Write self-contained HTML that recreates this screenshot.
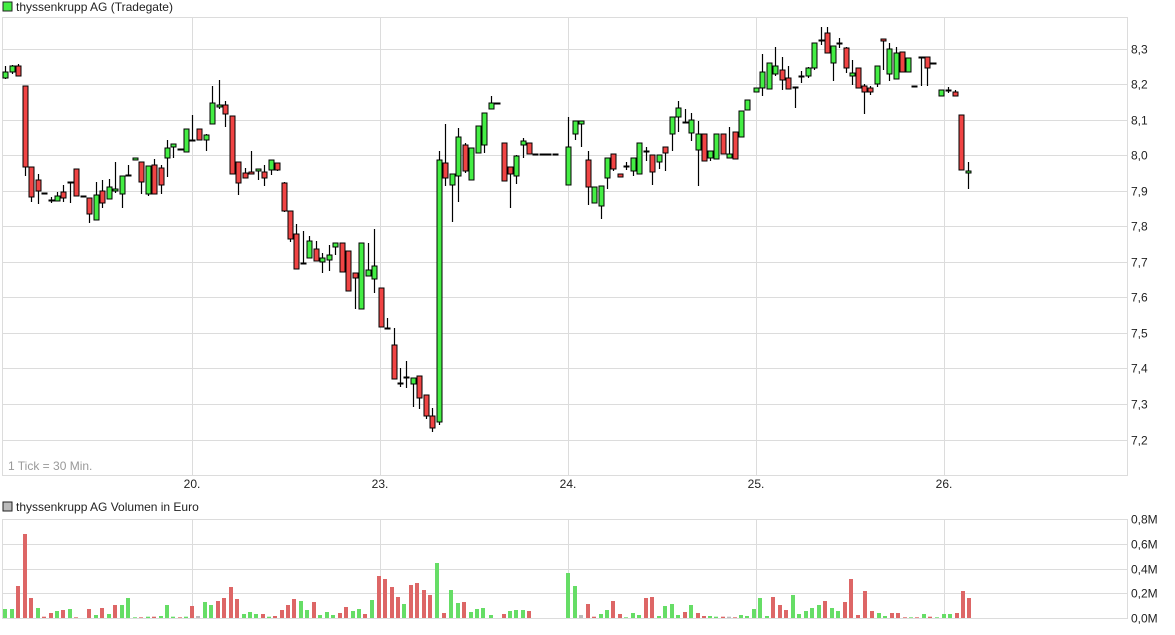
<!DOCTYPE html>
<html><head><meta charset="utf-8"><style>
body{margin:0;background:#fff;width:1175px;height:630px;overflow:hidden;font-family:"Liberation Sans",sans-serif}
svg text{font-family:"Liberation Sans",sans-serif;font-size:12px;fill:#222}
</style></head><body>
<svg id="s" width="1175" height="630" xmlns="http://www.w3.org/2000/svg">
<rect x="3" y="2" width="9" height="9" fill="#44ee44" stroke="#222" stroke-width="1"/>
<text x="16" y="11">thyssenkrupp AG (Tradegate)</text>
<rect x="3" y="502" width="9" height="9" fill="#bbb" stroke="#222" stroke-width="1"/>
<text x="16" y="511">thyssenkrupp AG Volumen in Euro</text>
<text x="8" y="470" style="fill:#999">1 Tick = 30 Min.</text>
<g id="grid"></g>
<g id="c"></g>
</svg>
<script>
var s='',g='';
function L(x1,y1,x2,y2,c,w){return '<line x1="'+x1+'" y1="'+y1+'" x2="'+x2+'" y2="'+y2+'" stroke="'+c+'" stroke-width="'+(w||1)+'"/>';}
// price grid
var labs=['8,3','8,2','8,1','8,0','7,9','7,8','7,7','7,6','7,5','7,4','7,3','7,2'];
for(var i=0;i<12;i++){var y=Math.round(48.5+i*35.55)+0.5;g+=L(2,y,1128,y,'#dcdcdc');g+='<text x="1131" y="'+(y+4)+'">'+labs[i]+'</text>';}
var days=[192,380,568,756,944],dl=['20.','23.','24.','25.','26.'];
for(i=0;i<5;i++){g+=L(days[i]+.5,17,days[i]+.5,476,'#dcdcdc');g+=L(days[i]+.5,519,days[i]+.5,618,'#dcdcdc');g+='<text x="'+days[i]+'" y="488" text-anchor="middle">'+dl[i]+'</text>';}
g+='<rect x="2.5" y="17.5" width="1125" height="458" fill="none" stroke="#dcdcdc"/>';
var vl=['0,8M','0,6M','0,4M','0,2M','0,0M'];
for(i=0;i<5;i++){var y=Math.round(519+i*24.8)+0.5;g+=L(2,y,1128,y,'#dcdcdc');g+='<text x="1131" y="'+(y+4)+'">'+vl[i]+'</text>';}
g+=L(2.5,519,2.5,618,'#dcdcdc')+L(1127.5,519,1127.5,618,'#dcdcdc');
document.getElementById('grid').innerHTML=g;
// candles: x, bodyTop, bodyBot, wickTop, wickBot, type
var C=[[5,72,78,66,79,'g'],[12,66,72,65,74,'g'],[18,66,76,64,76,'r'],[25,86,167,86,176,'r'],[31,167,197,167,202,'r'],[38,180,191,174,204,'r'],[44,193,193,193,193,'d'],[51,200,200,197,203,'d'],[57,196,201,192,201,'g'],[63,192,198,185,202,'r'],[70,182,182,182,203,'d'],[76,169,196,169,196,'r'],[83,196,196,196,196,'d'],[89,198,214,198,223,'r'],[96,195,220,182,220,'g'],[102,191,203,180,208,'r'],[109,187,199,179,199,'g'],[115,189,191,162,193,'g'],[122,176,194,176,208,'g'],[128,175,175,165,175,'d'],[135,158,160,158,160,'g'],[141,162,182,162,194,'r'],[148,166,194,166,196,'g'],[154,165,194,159,194,'r'],[161,168,185,165,194,'r'],[167,148,158,140,177,'g'],[173,144,147,144,158,'g'],[180,149,149,149,149,'d'],[186,129,152,129,152,'g'],[192,140,140,115,140,'d'],[199,129,140,129,140,'r'],[206,135,140,134,151,'g'],[212,103,124,86,124,'g'],[219,105,107,80,109,'g'],[225,105,114,101,127,'r'],[232,116,174,116,174,'r'],[238,162,183,162,195,'r'],[245,173,178,168,178,'r'],[251,172,174,151,174,'r'],[258,169,171,169,180,'g'],[264,172,178,165,186,'r'],[271,160,170,160,175,'g'],[277,163,170,163,171,'r'],[284,183,211,182,212,'r'],[290,211,239,211,242,'r'],[296,234,269,224,269,'r'],[303,263,263,231,263,'d'],[309,241,258,236,258,'g'],[316,249,261,241,261,'r'],[322,258,262,253,273,'g'],[329,255,260,245,271,'g'],[335,243,247,243,255,'g'],[342,243,272,243,272,'r'],[348,251,291,251,291,'r'],[355,273,278,273,309,'r'],[361,243,309,243,309,'g'],[368,270,276,243,276,'g'],[374,266,279,229,293,'g'],[381,288,327,288,327,'r'],[387,328,328,318,328,'d'],[394,345,379,328,379,'r'],[400,383,383,368,387,'d'],[406,377,377,361,388,'d'],[413,378,384,378,407,'g'],[419,376,398,376,409,'r'],[426,395,416,395,419,'r'],[432,416,428,408,432,'r'],[439,160,422,151,425,'g'],[445,163,178,124,186,'r'],[452,174,185,174,222,'g'],[458,137,176,128,202,'g'],[465,145,171,143,173,'r'],[471,148,180,148,180,'g'],[478,126,153,126,153,'g'],[484,113,145,113,153,'g'],[491,103,109,96,109,'g'],[497,103,103,103,103,'d'],[504,143,181,143,181,'r'],[510,167,174,167,208,'r'],[516,156,176,155,184,'g'],[523,141,145,138,158,'g'],[529,143,154,143,154,'r'],[535,154,154,154,154,'d'],[542,154,154,154,154,'d'],[548,154,154,154,154,'d'],[555,154,154,154,154,'d'],[568,147,185,117,185,'g'],[575,121,134,121,140,'g'],[581,121,124,121,147,'g'],[588,160,187,151,205,'r'],[594,187,203,187,203,'g'],[601,186,206,186,219,'g'],[607,158,178,158,189,'g'],[613,154,169,154,171,'r'],[620,174,177,174,177,'r'],[626,166,166,162,170,'d'],[633,158,171,158,176,'g'],[639,143,174,143,174,'g'],[646,151,151,147,161,'d'],[652,155,172,155,185,'r'],[659,155,162,155,169,'g'],[665,147,153,147,171,'r'],[672,117,134,117,151,'g'],[678,108,117,101,132,'g'],[685,122,122,109,122,'d'],[691,120,133,113,141,'g'],[698,134,150,121,186,'g'],[704,134,161,134,161,'r'],[710,151,158,151,161,'g'],[716,134,159,134,159,'g'],[723,134,154,134,154,'r'],[729,154,158,127,158,'g'],[735,132,159,132,159,'r'],[741,111,137,111,137,'g'],[747,100,110,100,110,'g'],[749,100,110,100,110,'g'],[756,88,92,88,92,'g'],[762,72,88,54,96,'g'],[769,63,89,63,89,'g'],[775,66,74,47,76,'g'],[782,70,80,57,90,'r'],[788,78,89,66,89,'r'],[795,87,87,87,108,'d'],[801,76,76,71,83,'d'],[808,68,76,67,78,'g'],[814,43,68,43,70,'g'],[821,40,40,27,45,'d'],[827,33,53,27,53,'r'],[833,46,63,46,81,'g'],[839,43,43,38,48,'d'],[846,48,68,47,73,'r'],[852,73,76,60,85,'g'],[858,68,88,68,88,'r'],[864,86,92,84,114,'r'],[870,88,92,86,95,'r'],[877,66,84,66,87,'g'],[883,39,41,39,70,'r'],[889,49,74,43,81,'g'],[896,53,79,47,79,'g'],[902,52,72,52,72,'r'],[908,58,72,58,72,'g'],[914,86,86,86,86,'d'],[921,57,57,57,86,'d'],[927,57,68,57,86,'r'],[933,63,63,63,63,'d'],[941,90,96,90,96,'g'],[948,90,90,87,93,'d'],[955,92,96,90,96,'r'],[961,115,170,115,170,'r'],[968,171,173,162,189,'g']];
C.splice(C.findIndex(function(a){return a[0]==747})+1,1);
for(i=0;i<C.length;i++){var a=C[i],x=a[0];
 if(a[3]<a[1]||a[4]>a[2]) s+=L(x+.5,a[3],x+.5,a[4],'#000',1.2);
 if(a[5]=='d'){s+='<rect x="'+(x-2.5)+'" y="'+(a[1]-0.5)+'" width="6" height="2" fill="#000"/>';}
 else{var h=Math.max(a[2]-a[1],2);s+='<rect x="'+(x-2)+'" y="'+a[1]+'" width="5" height="'+h+'" fill="'+(a[5]=='g'?'#44ee44':'#f04444')+'" stroke="#000" stroke-width="1"/>';}
}
// volume: x, height, color
var V=[[5,9,'g'],[12,9,'g'],[18,32,'r'],[25,84,'r'],[31,20,'r'],[38,10,'g'],[44,1.3,'r'],[51,5,'r'],[57,7,'g'],[63,8,'r'],[70,9,'g'],[76,.7,'r'],[89,9,'r'],[96,3,'g'],[102,10,'r'],[109,4,'g'],[115,13,'r'],[122,13,'g'],[128,20,'g'],[135,.7,'g'],[141,.7,'r'],[148,1.3,'g'],[154,1.3,'r'],[161,2,'g'],[167,13,'g'],[173,1.3,'g'],[180,.7,'r'],[186,1.3,'g'],[192,12,'r'],[198,2,'x'],[205,16,'g'],[211,13,'g'],[218,17,'r'],[224,20,'r'],[231,31,'r'],[237,19,'r'],[244,4,'g'],[250,6,'g'],[256,4,'g'],[263,4,'r'],[269,1.3,'g'],[275,2,'r'],[282,8,'r'],[288,13,'r'],[294,19,'r'],[301,17,'g'],[307,8,'g'],[314,16,'r'],[320,3,'g'],[327,6,'g'],[333,3,'g'],[340,5,'r'],[346,11,'r'],[353,7,'g'],[359,9,'g'],[365,4,'r'],[372,18,'g'],[379,42,'r'],[385,39,'r'],[392,31,'r'],[398,21,'r'],[404,14,'g'],[411,33,'r'],[417,35,'r'],[424,28,'r'],[430,23,'r'],[437,55,'g'],[444,5,'r'],[451,28,'g'],[458,15,'g'],[464,16,'r'],[471,6,'g'],[477,9,'g'],[483,10,'g'],[491,3,'g'],[504,4,'r'],[510,7,'g'],[516,8,'g'],[523,8,'g'],[529,7,'r'],[568,45,'g'],[575,32,'g'],[581,3,'x'],[588,14,'r'],[594,1.3,'r'],[601,4,'g'],[607,8,'g'],[613,17,'r'],[620,4,'r'],[626,.7,'g'],[633,5,'g'],[639,3,'g'],[646,20,'r'],[652,21,'r'],[659,2,'g'],[665,12,'g'],[672,14,'g'],[678,3,'g'],[685,6,'r'],[691,13,'g'],[698,5,'r'],[704,2,'r'],[710,2,'g'],[716,1.3,'g'],[723,1.3,'r'],[729,1.3,'x'],[735,.7,'r'],[741,3,'g'],[747,2,'g'],[754,9,'g'],[760,20,'g'],[767,2,'g'],[773,21,'r'],[780,13,'r'],[786,8,'r'],[793,23,'g'],[799,4,'g'],[806,7,'g'],[812,10,'g'],[819,13,'g'],[825,17,'r'],[832,10,'g'],[838,7,'g'],[845,16,'r'],[851,39,'r'],[858,3,'r'],[865,27,'r'],[872,7,'r'],[879,5,'g'],[885,2,'g'],[892,5,'r'],[898,5,'r'],[905,.7,'r'],[911,.7,'g'],[917,.7,'r'],[924,4,'g'],[930,1.3,'r'],[937,.7,'g'],[944,4,'g'],[950,4,'g'],[957,5,'r'],[963,27,'r'],[969,20,'r']];
for(i=0;i<V.length;i++){var v=V[i];s+='<rect x="'+(v[0]-2)+'" y="'+(618-v[1])+'" width="4" height="'+v[1]+'" fill="'+(v[2]=='g'?'#66dd66':v[2]=='r'?'#dd6666':'#bbbbbb')+'"/>';}
document.getElementById('c').innerHTML=s;
</script>
</body></html>
